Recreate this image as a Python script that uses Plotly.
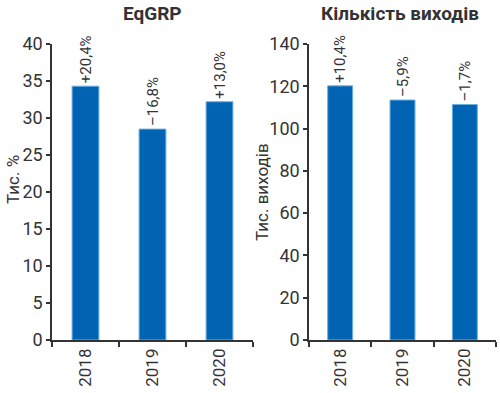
import plotly.graph_objects as go

years = ["2018", "2019", "2020"]
eqgrp = [34.3, 28.5, 32.2]
eqgrp_labels = ["+20,4%", "–16,8%", "+13,0%"]
outputs = [120.2, 113.5, 111.4]
outputs_labels = ["+10,4%", "–5,9%", "–1,7%"]

W, H = 500, 393
BAR = "#0064B2"
EDGE = "#6AAEE3"
AX = "#333333"
FONT = "Roboto"

fig = go.Figure()
fig.add_trace(go.Bar(x=years, y=eqgrp, text=eqgrp_labels, textposition="outside",
                     textangle=-90, cliponaxis=False, width=0.4, constraintext="none",
                     marker=dict(color=BAR, line=dict(color=EDGE, width=1)),
                     textfont=dict(size=15, color=AX, family=FONT),
                     xaxis="x", yaxis="y", showlegend=False, hoverinfo="skip"))
fig.add_trace(go.Bar(x=years, y=outputs, text=outputs_labels, textposition="outside",
                     textangle=-90, cliponaxis=False, width=0.4, constraintext="none",
                     marker=dict(color=BAR, line=dict(color=EDGE, width=1)),
                     textfont=dict(size=15, color=AX, family=FONT),
                     xaxis="x2", yaxis="y2", showlegend=False, hoverinfo="skip"))

ydom = [(H - 340) / H, (H - 44) / H]
xcommon = dict(type="category", showline=True, linecolor=AX, linewidth=1.5,
               ticks="outside", tickson="boundaries", ticklen=5, tickcolor=AX,
               tickwidth=1.5, tickangle=-90, tickfont=dict(size=17, color=AX, family=FONT),
               showgrid=False, zeroline=False, automargin=False)
ycommon = dict(showline=True, linecolor=AX, linewidth=1.5, ticks="outside", ticklen=4,
               tickcolor=AX, tickwidth=1.5, tickfont=dict(size=18, color=AX, family=FONT),
               showgrid=False, zeroline=False, domain=ydom, automargin=False)

fig.update_layout(
    width=W, height=H, margin=dict(l=0, r=0, t=0, b=0, autoexpand=False),
    paper_bgcolor="white", plot_bgcolor="white", bargap=0.6,
    xaxis=dict(domain=[52 / W, 253 / W], anchor="y", **xcommon),
    yaxis=dict(range=[0, 40], dtick=5, anchor="x", **ycommon),
    xaxis2=dict(domain=[309 / W, 496 / W], anchor="y2", **xcommon),
    yaxis2=dict(range=[0, 140], dtick=20, anchor="x2", **ycommon),
    annotations=[
        dict(text="<b>EqGRP</b>", x=152 / W, y=(H - 13) / H, xref="paper", yref="paper",
             xanchor="center", yanchor="middle",
             showarrow=False, font=dict(size=19, color=AX, family=FONT)),
        dict(text="<b>Кількість виходів</b>", x=400 / W, y=(H - 13) / H, xref="paper", yref="paper",
             xanchor="center", yanchor="middle",
             showarrow=False, font=dict(size=19, color=AX, family=FONT)),
        dict(text="Тис. %", x=13 / W, y=(H - 180) / H, xref="paper", yref="paper",
             xanchor="center", yanchor="middle",
             showarrow=False, textangle=-90, font=dict(size=17, color=AX, family=FONT)),
        dict(text="Тис. виходів", x=262 / W, y=(H - 192) / H, xref="paper", yref="paper",
             xanchor="center", yanchor="middle",
             showarrow=False, textangle=-90, font=dict(size=17, color=AX, family=FONT)),
    ],
)

fig.write_html("out.html", config={"displayModeBar": False},
               post_script="document.body.style.margin='0px';")
